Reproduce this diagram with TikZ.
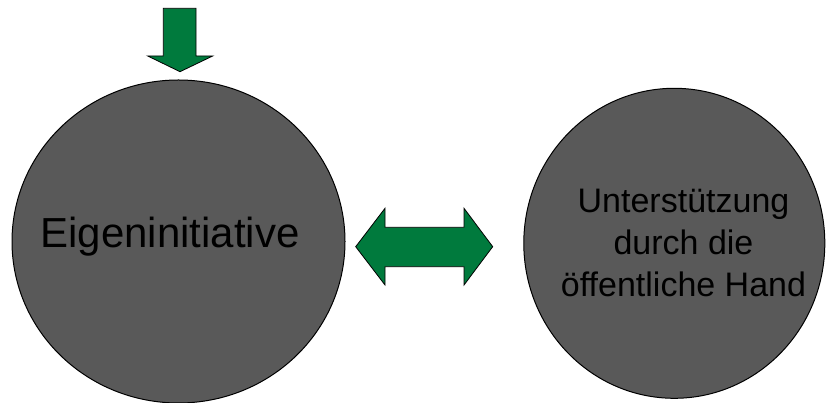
\documentclass[tikz,border=0pt]{standalone}
\usepackage{fontspec}
\setmainfont{Liberation Sans}
\usetikzlibrary{shapes.geometric}
\definecolor{blobgray}{RGB}{89,89,89}
\definecolor{arrowgreen}{RGB}{0,122,61}
\tikzset{
  blob/.style = {ellipse, draw = black, line width = 1pt, fill = blobgray, inner sep = 0pt},
  fatarrow/.style = {draw = black, line width = 0.8pt, fill = arrowgreen, line join = miter}
}
\begin{document}
\begin{tikzpicture}[x = 1pt, y = 1pt]
      \useasboundingbox (0,0) rectangle (826,403);
      % the two circles
      \node[blob, minimum width = 333, minimum height = 323] (eigen) at (178.5,161.5) {};
      \node[blob, minimum width = 301, minimum height = 310] (hand) at (674.3,159.7) {};
      \node[inner sep = 0pt, anchor = base, font = \fontsize{42}{50}\selectfont] (eigentxt)
        at ([xshift = -8.5, yshift = -6.5] eigen.center) {Eigeninitiative};
      \node[inner sep = 0pt, align = center, font = \fontsize{34}{42}\selectfont] (handtxt)
        at ([xshift = 9.2, yshift = 0.7] hand.center) {Unterstützung\\durch die\\öffentliche Hand};
      % arrow from above
      \coordinate (tip) at (180,331.3);
      \filldraw[fatarrow] (tip) -- (212.7,347) -- (196,347) -- (196,394.7)
        -- (163.3,394.7) -- (163.3,347) -- (147.7,347) -- cycle;
      % arrow in both directions
      \coordinate (ltip) at (355.7,156.3);
      \coordinate (rtip) at (492.7,156.3);
      \filldraw[fatarrow] (ltip) -- (385,194.7) -- (385,175.7) -- (464,175.7) -- (464,194.7)
        -- (rtip) -- (464,118) -- (464,136.3) -- (385,136.3) -- (385,118) -- cycle;
    \end{tikzpicture}
\end{document}
